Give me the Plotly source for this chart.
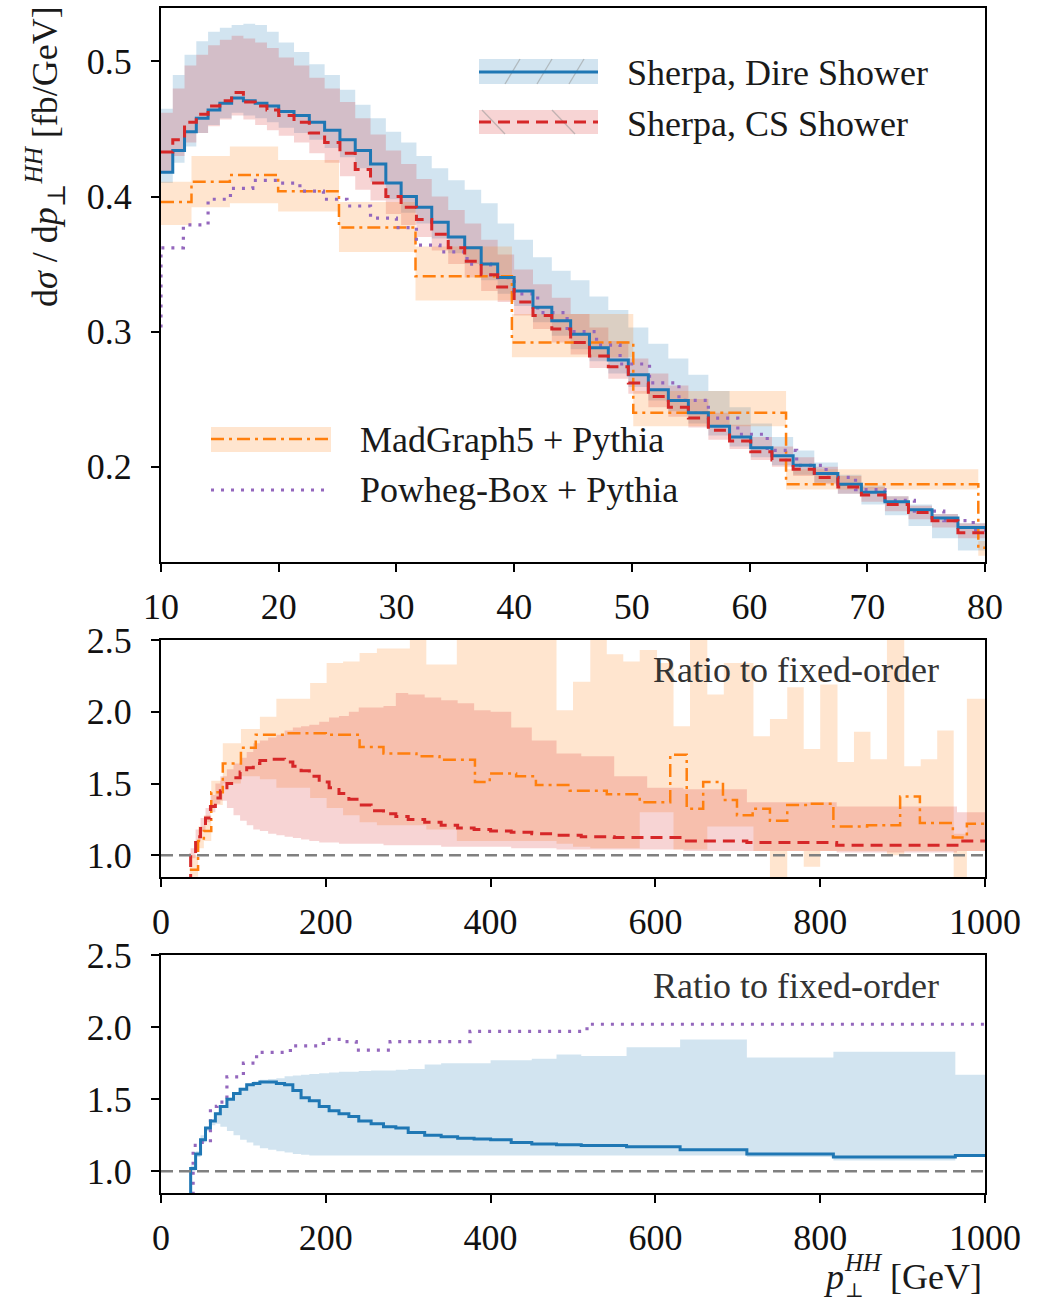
import plotly.graph_objects as go

# ---------------- top panel: dsigma/dpT [fb/GeV] ----------------
SH_EDGES = [10, 11, 12, 13, 14, 15, 16, 17, 18, 19, 20, 21.3, 22.6, 23.9, 25.2, 26.5, 27.8, 29.1, 30.4, 31.7, 33,
            34.4, 35.8, 37.2, 38.6, 40, 41.6, 43.2, 44.8, 46.4, 48, 49.7, 51.4, 53.1, 54.8, 56.5,
            58.3, 60.1, 61.9, 63.7, 65.5, 67.5, 69.5, 71.5, 73.5, 75.5, 77.7, 80]
DIRE = [0.418, 0.434, 0.448, 0.458, 0.464, 0.469, 0.473, 0.471, 0.469, 0.467,
        0.463, 0.460, 0.455, 0.449, 0.442, 0.434, 0.424, 0.410, 0.400, 0.392,
        0.381, 0.370, 0.362, 0.350, 0.340,
        0.330, 0.318, 0.308, 0.298, 0.288,
        0.279, 0.268, 0.257, 0.249, 0.240,
        0.230, 0.222, 0.214, 0.208, 0.201,
        0.195, 0.187, 0.181, 0.174, 0.168,
        0.162, 0.155]
DIRE_UP = [0.465, 0.490, 0.505, 0.515, 0.522, 0.525, 0.527, 0.528, 0.527, 0.522,
           0.514, 0.507, 0.498, 0.490, 0.479, 0.468, 0.458, 0.448, 0.440, 0.430,
           0.421, 0.412, 0.405, 0.395, 0.380,
           0.368, 0.355, 0.345, 0.338, 0.326,
           0.316, 0.303, 0.291, 0.280, 0.268,
           0.256, 0.244, 0.232, 0.222, 0.212,
           0.203, 0.194, 0.186, 0.178, 0.172,
           0.165, 0.158]
DIRE_LO = [0.410, 0.425, 0.437, 0.447, 0.453, 0.458, 0.462, 0.460, 0.458, 0.455,
           0.451, 0.447, 0.442, 0.436, 0.429, 0.421, 0.411, 0.398, 0.388, 0.380,
           0.369, 0.358, 0.350, 0.338, 0.328,
           0.319, 0.307, 0.297, 0.287, 0.278,
           0.269, 0.259, 0.249, 0.241, 0.232,
           0.223, 0.215, 0.207, 0.201, 0.194,
           0.188, 0.180, 0.172, 0.164, 0.156,
           0.147, 0.138]
CS = [0.433, 0.442, 0.455, 0.461, 0.467, 0.471, 0.477, 0.470, 0.467, 0.464,
      0.460, 0.455, 0.447, 0.440, 0.432, 0.420, 0.410, 0.400, 0.392, 0.383,
      0.372, 0.362, 0.352, 0.342, 0.333,
      0.322, 0.312, 0.302, 0.292, 0.282,
      0.274, 0.262, 0.252, 0.244, 0.236,
      0.227, 0.219, 0.211, 0.205, 0.198,
      0.192, 0.185, 0.179, 0.172, 0.166,
      0.160, 0.151]
CS_UP = [0.462, 0.480, 0.497, 0.505, 0.512, 0.516, 0.519, 0.517, 0.514, 0.510,
         0.503, 0.497, 0.488, 0.480, 0.470, 0.458, 0.446, 0.434, 0.424, 0.413,
         0.400, 0.390, 0.380, 0.368, 0.357,
         0.346, 0.335, 0.325, 0.313, 0.303,
         0.293, 0.280, 0.269, 0.260, 0.250,
         0.240, 0.231, 0.222, 0.215, 0.207,
         0.200, 0.193, 0.185, 0.178, 0.171,
         0.165, 0.158]
CS_LO = [0.418, 0.430, 0.440, 0.447, 0.452, 0.457, 0.460, 0.457, 0.453, 0.449,
         0.445, 0.440, 0.432, 0.425, 0.415, 0.405, 0.397, 0.387, 0.379, 0.370,
         0.360, 0.350, 0.340, 0.330, 0.322,
         0.312, 0.302, 0.292, 0.283, 0.273,
         0.265, 0.254, 0.244, 0.237, 0.229,
         0.220, 0.213, 0.205, 0.200, 0.193,
         0.187, 0.180, 0.174, 0.167, 0.161,
         0.155, 0.147]

MG_EDGES = [10, 12.59, 15.85, 19.95, 25.12, 31.62, 39.81, 50.12, 63.10, 79.43, 80]
MG = [0.396, 0.411, 0.416, 0.404, 0.377, 0.341, 0.292, 0.240, 0.187, 0.140]
MG_UP = [0.411, 0.430, 0.437, 0.427, 0.396, 0.363, 0.313, 0.256, 0.198, 0.145]
MG_LO = [0.379, 0.392, 0.395, 0.389, 0.359, 0.323, 0.281, 0.230, 0.183, 0.134]

PW_EDGES = [9.5, 10, 11.9, 14.0, 15.9, 17.8, 19.9, 21.8, 23.8, 25.8, 27.8, 30.0, 31.7, 33.7, 36.0, 38.0,
            40.0, 42.0, 44.5, 47.0, 49.0, 51.5, 54, 56.5, 59, 61.5, 64, 66.5, 69, 71.5, 74, 76.5, 79, 80]
PW = [0.30, 0.362, 0.379, 0.398, 0.406, 0.412, 0.410, 0.404, 0.398, 0.393,
      0.384, 0.377, 0.364, 0.359, 0.350, 0.340, 0.328, 0.314, 0.300, 0.290,
      0.276, 0.262, 0.249, 0.236, 0.224, 0.212, 0.201, 0.192, 0.183, 0.175,
      0.167, 0.160, 0.153]

# ---------------- middle panel: ratio to fixed order (CS, MadGraph5) ----------------
CSR_EDGES = [30, 36, 42, 48, 54, 60, 66, 72, 80, 88, 96, 104, 112, 120, 130, 140, 150, 160, 170, 180,
             192, 204, 216, 228, 240, 255, 270, 285, 300, 320, 340, 360, 380, 400, 425, 450, 480, 510,
             550, 590, 634, 711, 820, 966, 1000]
CSR = [0.82, 1.00, 1.13, 1.20, 1.26, 1.34, 1.40, 1.45, 1.50, 1.54,
       1.58, 1.61, 1.64, 1.66, 1.67, 1.67, 1.65, 1.62, 1.59, 1.55,
       1.51, 1.47, 1.43, 1.39, 1.35, 1.31, 1.29, 1.27, 1.25, 1.23,
       1.21, 1.19, 1.18, 1.17, 1.16, 1.15, 1.14, 1.13, 1.125, 1.125,
       1.10, 1.09, 1.07, 1.10]
CSR_UP = [0.85, 1.05, 1.18, 1.26, 1.33, 1.42, 1.50, 1.55, 1.60, 1.64,
          1.68, 1.72, 1.78, 1.80, 1.82, 1.84, 1.87, 1.89, 1.90, 1.91,
          1.93, 1.96, 1.97, 2.00, 2.03, 2.03, 2.04, 2.13, 2.12, 2.10,
          2.08, 2.06, 2.01, 2.00, 1.89, 1.80, 1.71, 1.69, 1.55, 1.47,
          1.46, 1.37, 1.34, 1.30]
CSR_LO = [0.80, 0.98, 1.10, 1.17, 1.23, 1.30, 1.36, 1.38, 1.33, 1.28,
          1.24, 1.21, 1.18, 1.17, 1.15, 1.14, 1.13, 1.12, 1.11, 1.10,
          1.09, 1.09, 1.08, 1.08, 1.08, 1.08, 1.07, 1.07, 1.07, 1.07,
          1.06, 1.06, 1.06, 1.06, 1.05, 1.05, 1.04, 1.04, 1.04, 1.04,
          1.03, 1.03, 1.02, 1.03]

MGR_EDGES = [35, 45, 52, 61, 75, 97, 115, 155, 200, 241, 270, 310, 338, 381, 399, 431, 455, 496, 541,
             581, 618, 638, 658, 682, 699, 718, 739, 760, 788, 816, 857, 897, 921, 961, 978, 1000]
MGR = [0.90, 1.10, 1.17, 1.44, 1.64, 1.75, 1.84, 1.85, 1.84, 1.755,
       1.71, 1.69, 1.665, 1.51, 1.57, 1.55, 1.49, 1.45, 1.425, 1.37,
       1.70, 1.325, 1.51, 1.385, 1.28, 1.325, 1.24, 1.35, 1.36, 1.20,
       1.21, 1.41, 1.225, 1.125, 1.22]
MGB_EDGES = [35, 45, 52, 61, 75, 97, 120, 140, 181, 201, 221, 241, 262, 302, 322, 359, 480, 500, 521, 541,
             561, 581, 602, 622, 642, 663, 683, 719, 739, 760, 780, 800, 821, 841, 861, 881, 902, 922, 942,
             962, 978, 1000]
MGB_UP = [1.00, 1.20, 1.28, 1.52, 1.78, 1.88, 1.965, 2.09, 2.20, 2.34,
          2.35, 2.41, 2.44, 2.60, 2.33, 2.60, 2.01, 2.21, 2.60, 2.40,
          2.35, 2.43, 2.34, 1.90, 2.60, 2.12, 2.34, 1.83, 1.95, 2.17,
          1.74, 2.19, 1.65, 1.86, 1.67, 2.60, 1.62, 1.67, 1.87, 1.15,
          2.09]
MGB_LO = [0.85, 1.05, 1.10, 1.35, 1.50, 1.55, 1.53, 1.47, 1.40, 1.33,
          1.28, 1.23, 1.21, 1.21, 1.18, 1.10, 1.08, 1.06, 1.05, 1.05,
          1.05, 1.30, 1.30, 1.04, 1.04, 1.20, 1.20, 1.03, 0.80, 1.03,
          0.92, 1.03, 1.03, 1.03, 1.03, 1.00, 1.03, 1.03, 1.03, 0.80,
          1.03]

# ---------------- bottom panel: ratio to fixed order (Dire, Powheg) ----------------
DR_EDGES = [30, 36, 42, 48, 54, 60, 66, 72, 80, 88, 96, 104, 112, 120, 130, 140, 150, 160, 170, 180,
            192, 204, 216, 228, 240, 255, 270, 285, 300, 320, 340, 360, 380, 400, 425, 450, 480, 510,
            565, 630, 711, 816, 964, 1000]
DR = [0.82, 1.02, 1.12, 1.22, 1.30, 1.35, 1.40, 1.45, 1.50, 1.54,
      1.57, 1.60, 1.61, 1.62, 1.62, 1.61, 1.60, 1.56, 1.51, 1.49,
      1.45, 1.42, 1.40, 1.38, 1.35, 1.33, 1.31, 1.30, 1.27, 1.25,
      1.24, 1.23, 1.225, 1.22, 1.20, 1.19, 1.185, 1.18, 1.17, 1.15,
      1.12, 1.10, 1.11]
DR_UP = [0.84, 1.04, 1.14, 1.25, 1.31, 1.36, 1.41, 1.46, 1.51, 1.55,
         1.58, 1.61, 1.625, 1.635, 1.64, 1.645, 1.66, 1.665, 1.67, 1.675,
         1.68, 1.685, 1.69, 1.69, 1.695, 1.70, 1.70, 1.705, 1.71, 1.74,
         1.75, 1.75, 1.75, 1.77, 1.77, 1.78, 1.81, 1.80, 1.86, 1.915,
         1.79, 1.83, 1.67]
DR_LO = [0.80, 1.00, 1.10, 1.20, 1.28, 1.32, 1.33, 1.31, 1.28, 1.25,
         1.22, 1.20, 1.18, 1.16, 1.15, 1.14, 1.13, 1.12, 1.115, 1.11,
         1.11, 1.11, 1.11, 1.11, 1.11, 1.11, 1.11, 1.11, 1.11, 1.11,
         1.11, 1.11, 1.11, 1.11, 1.11, 1.11, 1.11, 1.11, 1.11, 1.11,
         1.10, 1.076, 1.106]
PR_EDGES = [30, 39, 47, 60, 68, 80, 100, 116, 157, 197, 221, 237, 278, 375, 517, 1000]
PR = [0.75, 1.18, 1.20, 1.45, 1.48, 1.655, 1.75, 1.825, 1.87, 1.915, 1.90, 1.84, 1.90, 1.97, 2.02]

TOP_XTICKS = [10, 20, 30, 40, 50, 60, 70, 80]
TOP_YTICKS = [0.2, 0.3, 0.4, 0.5]
RATIO_XTICKS = [0, 200, 400, 600, 800, 1000]
RATIO_YTICKS = [1.0, 1.5, 2.0, 2.5]
RATIO_YTEXT = ["1.0", "1.5", "2.0", "2.5"]

# ---------------- styling ----------------
W, H = 1047, 1303
FONT = "Liberation Serif, DejaVu Serif, serif"
C_BLUE = "#1f77b4"
C_RED = "#d62728"
C_ORANGE = "#ff7f0e"
C_PURPLE = "#9467bd"
F_BLUE = "rgba(31,119,180,0.2)"
F_RED = "rgba(214,39,40,0.2)"
F_ORANGE = "rgba(255,127,14,0.2)"


def px(x):
    return x / W


def py(y):
    return 1 - y / H


fig = go.Figure()


def add_band(xa, ya, edges, lo, up, color):
    fig.add_trace(go.Scatter(x=edges, y=list(lo) + [lo[-1]], mode="lines",
                             line=dict(width=0, shape="hv"), xaxis=xa, yaxis=ya,
                             showlegend=False, hoverinfo="skip"))
    fig.add_trace(go.Scatter(x=edges, y=list(up) + [up[-1]], mode="lines",
                             line=dict(width=0, shape="hv"), fill="tonexty", fillcolor=color,
                             xaxis=xa, yaxis=ya, showlegend=False, hoverinfo="skip"))


def add_step(xa, ya, edges, vals, color, width, dash):
    fig.add_trace(go.Scatter(x=edges, y=list(vals) + [vals[-1]], mode="lines",
                             line=dict(color=color, width=width, dash=dash, shape="hv"),
                             xaxis=xa, yaxis=ya, showlegend=False))


DASH_RED = "12px,7px"
DASH_DOTDASH = "13px,5px,3px,5px"
DASH_DOT = "3px,7px"

# top
add_band("x", "y", SH_EDGES, DIRE_LO, DIRE_UP, F_BLUE)
add_band("x", "y", SH_EDGES, CS_LO, CS_UP, F_RED)
add_band("x", "y", MG_EDGES, MG_LO, MG_UP, F_ORANGE)
add_step("x", "y", MG_EDGES, MG, C_ORANGE, 2.5, DASH_DOTDASH)
add_step("x", "y", PW_EDGES, PW, C_PURPLE, 3.2, DASH_DOT)
add_step("x", "y", SH_EDGES, DIRE, C_BLUE, 3, "solid")
add_step("x", "y", SH_EDGES, CS, C_RED, 3, DASH_RED)

# middle
add_band("x2", "y2", MGB_EDGES, MGB_LO, MGB_UP, F_ORANGE)
add_band("x2", "y2", CSR_EDGES, CSR_LO, CSR_UP, F_RED)
add_step("x2", "y2", MGR_EDGES, MGR, C_ORANGE, 2.5, DASH_DOTDASH)
add_step("x2", "y2", CSR_EDGES, CSR, C_RED, 3, DASH_RED)

# bottom
add_band("x3", "y3", DR_EDGES, DR_LO, DR_UP, F_BLUE)
add_step("x3", "y3", PR_EDGES, PR, C_PURPLE, 3.2, DASH_DOT)
add_step("x3", "y3", DR_EDGES, DR, C_BLUE, 3, "solid")

XD = [px(161), px(985)]
Y1 = [py(562), py(8)]
Y2 = [py(877), py(640)]
Y3 = [py(1193), py(955)]

tickfont = dict(family=FONT, size=36, color="#111111")
common = dict(showline=True, linecolor="black", linewidth=2, mirror=True, ticks="outside",
              ticklen=8, tickwidth=1.6, tickcolor="black", showgrid=False, zeroline=False,
              tickfont=tickfont, automargin=False)

fig.update_layout(
    width=W, height=H, margin=dict(l=0, r=0, t=0, b=0, pad=0, autoexpand=False),
    paper_bgcolor="white", plot_bgcolor="white", showlegend=False,
    xaxis=dict(domain=XD, range=[10, 80], anchor="y", tickvals=TOP_XTICKS,
               ticklabelstandoff=4, **common),
    yaxis=dict(domain=Y1, range=[0.1294, 0.5396], anchor="x", tickvals=TOP_YTICKS,
               ticklabelstandoff=12, **common),
    xaxis2=dict(domain=XD, range=[0, 1000], anchor="y2", tickvals=RATIO_XTICKS,
                ticklabelstandoff=4, **common),
    yaxis2=dict(domain=Y2, range=[0.849, 2.5], anchor="x2", tickvals=RATIO_YTICKS,
                ticktext=RATIO_YTEXT, ticklabelstandoff=12, **common),
    xaxis3=dict(domain=XD, range=[0, 1000], anchor="y3", tickvals=RATIO_XTICKS,
                ticklabelstandoff=4, **common),
    yaxis3=dict(domain=Y3, range=[0.85, 2.5], anchor="x3", tickvals=RATIO_YTICKS,
                ticktext=RATIO_YTEXT, ticklabelstandoff=12, **common),
)

shapes = []
# reference lines at ratio 1
for xr, yr in (("x2", "y2"), ("x3", "y3")):
    shapes.append(dict(type="line", xref=xr + " domain", yref=yr, x0=0, x1=1, y0=1, y1=1,
                       line=dict(color="#808080", width=2.5, dash="12px,6px"), layer="above"))


def prect(x0, y0, x1, y1, fill):
    return dict(type="rect", xref="paper", yref="paper", x0=px(x0), x1=px(x1),
                y0=py(y1), y1=py(y0), fillcolor=fill, line=dict(width=0), layer="above")


def pline(x0, y0, x1, y1, color, width, dash="solid"):
    return dict(type="line", xref="paper", yref="paper", x0=px(x0), x1=px(x1),
                y0=py(y0), y1=py(y1), line=dict(color=color, width=width, dash=dash), layer="above")


# legend swatches (upper right)
shapes.append(prect(479, 59, 598, 84, F_BLUE))
for hx in (505, 537, 569):
    shapes.append(pline(hx, 84, hx + 15, 59, "rgba(150,150,150,0.55)", 1.3))
shapes.append(pline(479, 72, 598, 72, C_BLUE, 3))
shapes.append(prect(479, 110, 598, 134, F_RED))
for hx in (482, 552):
    shapes.append(pline(hx, 110, hx + 23, 134, "rgba(150,150,150,0.55)", 1.3))
shapes.append(pline(479, 122, 598, 122, C_RED, 3, DASH_RED))
# legend swatches (lower left)
shapes.append(prect(211, 427, 331, 452, F_ORANGE))
shapes.append(pline(211, 439, 331, 439, C_ORANGE, 2.5, DASH_DOTDASH))
shapes.append(pline(211, 490, 331, 490, C_PURPLE, 3.2, DASH_DOT))
fig.update_layout(shapes=shapes)

ann = []


def text(x, y, s, xanchor="left", color="#1a1a1a", angle=0, size=36):
    ann.append(dict(x=px(x), y=py(y), xref="paper", yref="paper", text=s, showarrow=False,
                    xanchor=xanchor, yanchor="middle", textangle=angle,
                    font=dict(family=FONT, size=size, color=color)))


text(625, 73, "Sherpa, Dire Shower")
text(625, 124, "Sherpa, CS Shower")
text(358, 440, "MadGraph5 + Pythia")
text(358, 490, "Powheg-Box + Pythia")
text(941, 670, "Ratio to fixed-order", xanchor="right", color="#333333")
text(941, 986, "Ratio to fixed-order", xanchor="right", color="#333333")
# x-axis title: p_perp^HH [GeV]
text(984, 1277, "[GeV]", xanchor="right")
text(821, 1277, "<i>p</i>")
text(842, 1262, "<i>HH</i>", size=25)
text(843, 1290, "⊥", size=20)
text(45, 157, "d<i>σ</i> / d<i>p</i><sub>⊥</sub><sup><i>HH</i></sup> [fb/GeV]", xanchor="center", angle=-90)
fig.update_layout(annotations=ann)

fig.write_html("out.html")
